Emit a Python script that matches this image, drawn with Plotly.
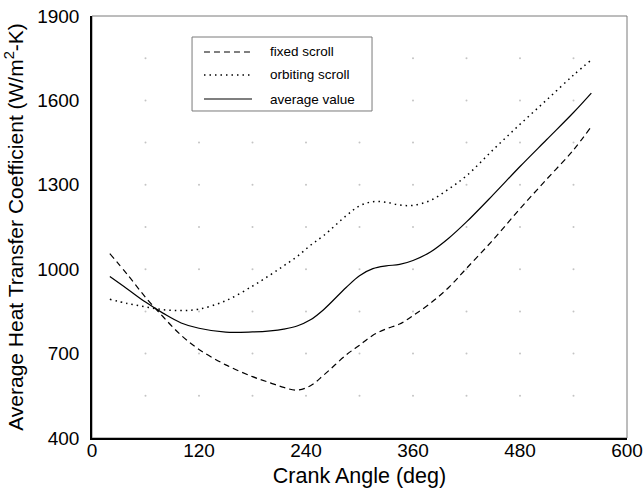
import numpy as np
import plotly.graph_objects as go

# Crank angle positions (deg)
crank_angle = [20, 40, 60, 80, 100, 120, 150, 180, 200, 215, 230, 245, 260, 285, 300,
               315, 330, 345, 360, 380, 400, 420, 450, 480, 510, 540, 560]

# Heat transfer coefficient, fixed scroll (W/m2-K)
fixed_scroll = [1055, 980, 900, 830, 765, 715, 660, 618, 596, 580, 570, 586, 624, 695, 730,
                765, 788, 805, 835, 880, 935, 1003, 1105, 1215, 1320, 1424, 1507]

# Heat transfer coefficient, orbiting scroll (W/m2-K)
orbiting_scroll = [893, 878, 866, 856, 853, 858, 888, 940, 980, 1012, 1045, 1085, 1120, 1190, 1225,
                   1240, 1238, 1228, 1227, 1245, 1285, 1332, 1425, 1515, 1602, 1690, 1744]

# Average of the two surfaces (W/m2-K)
average_value = [974, 929, 883, 843, 809, 790, 776, 777, 781, 787, 798, 820, 857, 935, 977,
                 1002, 1012, 1017, 1031, 1062, 1110, 1168, 1265, 1365, 1461, 1557, 1626]

x_ticks = [0, 120, 240, 360, 480, 600]
y_ticks = [400, 700, 1000, 1300, 1600, 1900]

FONT = "Liberation Sans, Arial, sans-serif"

series = [
    ("fixed scroll", fixed_scroll, dict(color="black", width=1.2, dash="6px,4px")),
    ("orbiting scroll", orbiting_scroll, dict(color="black", width=1.5, dash="1.5px,4px")),
    ("average value", average_value, dict(color="black", width=1.2, dash="solid")),
]

fig = go.Figure()

# faint dotted grid: small dots at the grid intersections
gx, gy = np.meshgrid(np.arange(60, 600, 60), np.arange(550, 1900, 150))
fig.add_trace(go.Scatter(
    x=gx.ravel(), y=gy.ravel(), mode="markers",
    marker=dict(size=2, color="#c4c4c4"),
    hoverinfo="skip", showlegend=False,
))

for name, values, style in series:
    fig.add_trace(go.Scatter(
        x=crank_angle, y=values, mode="lines", name=name, showlegend=False,
        line=dict(shape="spline", smoothing=1.0, **style),
    ))

# grey frame around the plotting area
fig.add_shape(type="rect", xref="paper", yref="paper", x0=0, y0=0, x1=1, y1=1,
              line=dict(color="#7a7a7a", width=1), layer="below")

# legend box with line samples and labels
leg_x0, leg_x1, leg_top, leg_bot = 0.187, 0.5234, 0.9502, 0.7749
fig.add_shape(type="rect", xref="paper", yref="paper",
              x0=leg_x0, x1=leg_x1, y0=leg_bot, y1=leg_top,
              line=dict(color="#7a7a7a", width=1), fillcolor="white", layer="above")
row_y = [0.9147, 0.8602, 0.8033]
for (name, _, style), yy in zip(series, row_y):
    fig.add_shape(type="line", xref="paper", yref="paper",
                  x0=0.2093, x1=0.2991, y0=yy, y1=yy,
                  line=style, layer="above")
    fig.add_annotation(xref="paper", yref="paper", x=0.329, y=yy,
                       xanchor="left", yanchor="middle", showarrow=False,
                       text=name, font=dict(size=13.5, family=FONT, color="black"))

fig.update_layout(
    width=644, height=493,
    margin=dict(l=92, r=17, t=16, b=55),
    paper_bgcolor="white", plot_bgcolor="white",
    font=dict(family=FONT, color="black"),
    showlegend=False,
    xaxis=dict(
        range=[0, 600], tickvals=x_ticks, showgrid=False, zeroline=False,
        showline=True, linecolor="black", linewidth=1.5,
        ticks="", ticklabelstandoff=-6, automargin=False,
        tickfont=dict(size=19, family=FONT),
        title=dict(text="Crank Angle (deg)", font=dict(size=21.5, family=FONT), standoff=8),
    ),
    yaxis=dict(
        range=[400, 1900], tickvals=y_ticks, showgrid=False, zeroline=False,
        showline=True, linecolor="black", linewidth=1.5,
        ticks="", ticklabelstandoff=7, automargin=False,
        tickfont=dict(size=19, family=FONT),
        title=dict(text="Average Heat Transfer Coefficient (W/m<sup>2</sup>-K)",
                   font=dict(size=21, family=FONT), standoff=8),
    ),
)

fig.write_html("out.html")
